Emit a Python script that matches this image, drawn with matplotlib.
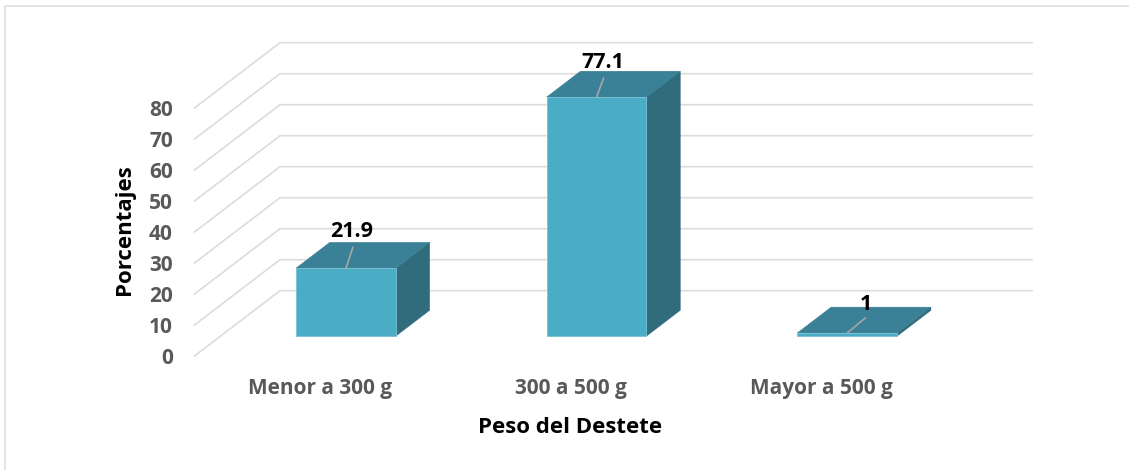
import matplotlib
matplotlib.use("Agg")
import matplotlib.pyplot as plt
from matplotlib.lines import Line2D

categories = ["Menor a 300 g", "300 a 500 g", "Mayor a 500 g"]
values = [21.9, 77.1, 1]
value_labels = ["21.9", "77.1", "1"]
y_ticks = [0, 10, 20, 30, 40, 50, 60, 70, 80]

W, H = 1129, 470
BLUE_FRONT = "#4BACC6"
BLUE_TOP = "#3A8096"
BLUE_SIDE = "#306C7C"
GRID = "#DCDCDC"
TICK_COLOR = "#595959"

# fake 3d: depth of the floor in data units
DEPTH_X = 85.5 / 250.67
DEPTH_Y = 65.3 / 3.1
BAR_WIDTH = 0.398
BAR_D0 = 0.305
BAR_D1 = 0.70


def project(x, y, d):
    return x + d * DEPTH_X, y + d * DEPTH_Y


def draw_box(ax, center, value):
    x0, x1 = center - BAR_WIDTH / 2, center + BAR_WIDTH / 2
    corners = [(x0, BAR_D0), (x1, BAR_D0), (x1, BAR_D1), (x0, BAR_D1)]
    top = [project(x, value, d) for x, d in corners]
    side = [project(x1, 0, BAR_D0), project(x1, 0, BAR_D1),
            project(x1, value, BAR_D1), project(x1, value, BAR_D0)]
    front = [project(x0, 0, BAR_D0), project(x1, 0, BAR_D0),
             project(x1, value, BAR_D0), project(x0, value, BAR_D0)]
    ax.fill(*zip(*side), color=BLUE_SIDE, lw=0.4, clip_on=False, zorder=3)
    ax.fill(*zip(*top), color=BLUE_TOP, lw=0.4, clip_on=False, zorder=3)
    ax.fill(*zip(*front), facecolor=BLUE_FRONT, edgecolor="#78C2D6", lw=0.6,
            clip_on=False, zorder=4)


plt.rcParams["font.family"] = ["Open Sans", "DejaVu Sans"]
plt.rcParams["font.weight"] = "bold"

fig = plt.figure(figsize=(W / 100, H / 100), dpi=100)
# frame is only visible on the left and top, the crop cuts the rest
fig.add_artist(Line2D([5 / W, 5 / W, 1], [0, 1 - 6 / H, 1 - 6 / H],
                      transform=fig.transFigure, color="#E4E4E4", lw=1.4))

ax = fig.add_axes([194.5 / W, 1 - 356 / H, 752 / W, 248 / H])
ax.set_xlim(0, 3)
ax.set_ylim(0, 80)
for spine in ax.spines.values():
    spine.set_visible(False)

# back wall and left wall lines
for v in y_ticks:
    ax.plot(*zip(project(0, v, 0), project(0, v, 1), project(3, v, 1)),
            color=GRID, lw=1.2, clip_on=False, zorder=1)

positions = [i + 0.5 for i in range(len(categories))]
for pos, val in zip(positions, values):
    draw_box(ax, pos, val)

ax.set_yticks(y_ticks)
ax.set_xticks(positions)
ax.set_xticklabels(categories)
ax.tick_params(axis="y", length=0, pad=15.5, labelsize=15, labelcolor=TICK_COLOR)
ax.tick_params(axis="x", length=0, pad=16, labelsize=15, labelcolor=TICK_COLOR)
ax.set_xlabel("Peso del Destete", fontsize=16, fontweight="bold", color="black", labelpad=13)
ax.set_ylabel("Porcentajes", fontsize=16, fontweight="bold", color="black", labelpad=10)
ax.yaxis.label.set_y(0.5 + 2 / 248)

# leader (px from bar top front centre) and label offsets
leader_ends = [(7, 21), (7, 19), (18, 15)]
label_offsets = [(6, 37), (6, 35), (19, 28)]
for pos, val, txt, le, lo in zip(positions, values, value_labels, leader_ends, label_offsets):
    anchor = project(pos, val, BAR_D0)
    ax.annotate("", xy=anchor, xytext=le, textcoords="offset pixels",
                arrowprops=dict(arrowstyle="-", color="#A6A6A6", lw=1.2, shrinkA=0, shrinkB=0),
                zorder=5, annotation_clip=False)
    ax.annotate(txt, xy=anchor, xytext=lo, textcoords="offset pixels",
                ha="center", va="center", fontsize=15.5, fontweight="bold",
                color="black", zorder=6, annotation_clip=False)

fig.savefig("out.png", dpi=100)
